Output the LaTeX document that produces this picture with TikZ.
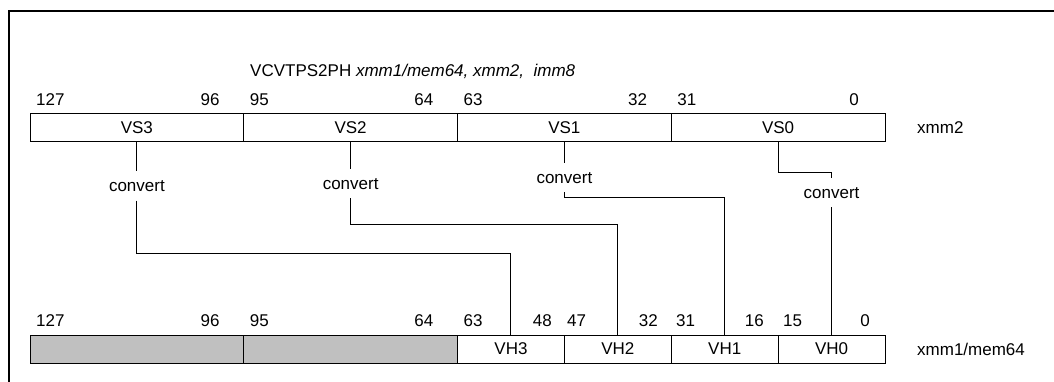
\documentclass[tikz,border=0pt]{standalone}
\usepackage{fontspec}
\setmainfont{Liberation Sans}
\definecolor{unusedfill}{RGB}{192,192,192}
\begin{document}
\begin{tikzpicture}[
        x=1pt, y=-1pt,
        every node/.style={font=\fontsize{17}{20}\selectfont},
        regbox/.style={
            draw,
            line width=0.9pt,
            minimum height=28,
            inner sep=0pt
        },
        cvtbox/.style={
            inner xsep=2pt,
            inner ysep=8.5pt,
            text height=12pt,
            text depth=0pt
        },
        bitnum/.style={inner sep=0pt}
    ]
        \useasboundingbox (0,0) rectangle (1054,382);
        \draw[line width=2pt] (8.5,382) |- (1054,11);

        \node[anchor=base west, inner sep=0pt] (title) at (250,77) {VCVTPS2PH \textit{xmm1/mem64, xmm2,\ \ imm8}};

        \node[regbox, minimum width=213.75] (vs3) at (136.875,127.5) {VS3};
        \node[regbox, minimum width=213.75] (vs2) at (350.625,127.5) {VS2};
        \node[regbox, minimum width=213.75] (vs1) at (564.375,127.5) {VS1};
        \node[regbox, minimum width=213.75] (vs0) at (778.125,127.5) {VS0};
        \node[anchor=west, inner sep=0pt] (src) at (917,127.5) {xmm2};

        \node[regbox, fill=unusedfill, minimum width=213.75] (hi1) at (136.875,349) {};
        \node[regbox, fill=unusedfill, minimum width=213.75] (hi0) at (350.625,349) {};
        \node[regbox, minimum width=106.875] (vh3) at (510.94,349) {VH3};
        \node[regbox, minimum width=106.875] (vh2) at (617.81,349) {VH2};
        \node[regbox, minimum width=106.875] (vh1) at (724.69,349) {VH1};
        \node[regbox, minimum width=106.875] (vh0) at (831.56,349) {VH0};
        \node[anchor=west, inner sep=0pt] (dst) at (917,349) {xmm1/mem64};

        \foreach \n/\x in {127/36, 95/249.75, 63/463.5, 31/677.25}
            \node[bitnum, anchor=base west] (t\n) at (\x,105.7) {\n};
        \foreach \n/\x in {96/219.75, 64/433.5, 32/647.25, 0/859}
            \node[bitnum, anchor=base east] (t\n) at (\x,105.7) {\n};
        \foreach \n/\x in {127/36, 95/249.75, 63/463.5, 47/567, 31/676, 15/783}
            \node[bitnum, anchor=base west] (b\n) at (\x,326.7) {\n};
        \foreach \n/\x in {96/219.75, 64/433.5, 48/552, 32/658, 16/764, 0/870}
            \node[bitnum, anchor=base east] (b\n) at (\x,326.7) {\n};

        \node[cvtbox] (cvt3) at (136.875,186) {convert};
        \node[cvtbox] (cvt2) at (350.625,183.5) {convert};
        \node[cvtbox] (cvt1) at (564.375,177.5) {convert};
        \node[cvtbox] (cvt0) at (831.56,192.5) {convert};

        \draw[line width=0.9pt] (vs3.south) -- (cvt3.north);
        \draw[line width=0.9pt] (cvt3.south) -- ++(0,52.5) -| (vh3.north);
        \draw[line width=0.9pt] (vs2.south) -- (cvt2.north);
        \draw[line width=0.9pt] (cvt2.south) -- ++(0,26) -| (vh2.north);
        \draw[line width=0.9pt] (vs1.south) -- (cvt1.north);
        \draw[line width=0.9pt] (cvt1.south) -- ++(0,5) -| (vh1.north);
        \draw[line width=0.9pt] (vs0.south) -- ++(0,30.5) -| (cvt0.north);
        \draw[line width=0.9pt] (cvt0.south) -- (vh0.north);
    \end{tikzpicture}
\end{document}
